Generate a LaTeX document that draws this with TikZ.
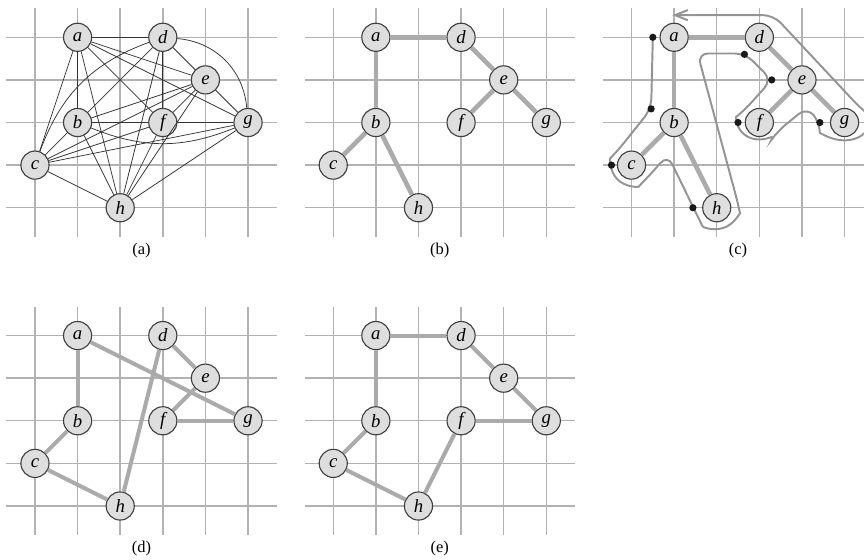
\documentclass[tikz,border=0pt]{standalone}
\usepackage{fontspec}
\setmainfont{Liberation Serif}
\newfontfamily\figfont{Liberation Serif}
\usetikzlibrary{arrows.meta}

\tikzset{
  vertex/.style={circle, draw=black!75, fill=black!13, line width=0.75pt,
    minimum size=6.6mm, inner sep=0pt, font=\figfont\fontsize{12.5}{12.5}\selectfont\itshape},
  gridline/.style={black!30, line width=0.95pt},
  kedge/.style={black!80, line width=0.5pt},
  thickedge/.style={black!33, line width=3.1pt},
  touredge/.style={black!33, line width=2.7pt},
  walk/.style={black!42, line width=1.3pt},
  visit/.style={circle, fill=black!90, inner sep=0pt, minimum size=1.7mm},
  caption/.style={font=\figfont\fontsize{11}{12}\selectfont}
}

% grid of one panel
\newcommand{\panelgrid}{%
  \foreach \x in {0,...,5}
    \draw[gridline] (\x,0.68) -- (\x,-4.68);
  \foreach \y in {0,...,4}
    \draw[gridline] (-0.67,-\y) -- (5.67,-\y);
}
% the eight vertices, #1 = panel suffix
\newcommand{\panelvertices}[1]{%
  \foreach \v/\x/\y in {a/1/0,d/3/0,e/4/-1,b/1/-2,f/3/-2,g/5/-2,c/0/-3,h/2/-4}
    \node[vertex] (\v#1) at (\x,\y) {\v};
}

\begin{document}
\begin{tikzpicture}
\useasboundingbox (-0.821,0.875) rectangle (19.456,-12.244);
\clip (-0.821,0.875) rectangle (19.456,-12.244);

% (a) complete graph
\begin{scope}
  \panelgrid
  \panelvertices{1}
  \foreach \u/\v in {a/b,a/c,a/d,a/e,a/f,a/g,a/h,b/c,b/d,b/e,b/f,b/h,%
                     c/e,c/f,c/g,c/h,d/e,d/f,d/h,e/f,e/g,e/h,f/g,f/h,g/h}
    \draw[kedge] (\u1) -- (\v1);
  \draw[kedge] (d1) to[bend left=40] (g1);
  \draw[kedge] (c1) to[bend left=25] (d1);
  \draw[kedge] (b1) to[bend right=22] (g1);
  \node[caption] (capa) at (2.5,-5) {(a)};
\end{scope}

% (b) minimum spanning tree
\begin{scope}[shift={(7,0)}]
  \panelgrid
  \panelvertices{2}
  \foreach \u/\v in {a/d,a/b,b/c,b/h,d/e,e/f,e/g}
    \draw[thickedge] (\u2) -- (\v2);
  \node[caption] (capb) at (2.5,-5) {(b)};
\end{scope}

% (c) walk of the tree
\begin{scope}[shift={(14,0)}]
  \panelgrid
  \panelvertices{3}
  \foreach \u/\v in {a/d,a/b,b/c,b/h,d/e,e/f,e/g}
    \draw[thickedge] (\u3) -- (\v3);
  \draw[walk, rounded corners=7pt, -{Straight Barb[length=3mm,width=2.4mm]}]
    (0.5,0) -- (0.46,-1.68) -- (-0.33,-2.67)
    arc[start angle=135, end angle=315, radius=0.47]
    -- (0.85,-2.76) -- (1.56,-4.22)
    arc[start angle=206.57, end angle=372, radius=0.5]
    -- (1.55,-0.38) -- (2.67,-0.38) -- (3.29,-1.0) -- (2.646,-1.717)
    arc[start angle=135, end angle=330, x radius=0.5, y radius=0.4]
    -- (4.12,-1.64) -- (4.42,-2)
    arc[start angle=180, end angle=405, x radius=0.58, y radius=0.42]
    -- (3.33,0.52) -- (0.96,0.52);
  \foreach \n/\x/\y in {a/0.5/0,b/0.46/-1.68,c/-0.47/-3,h/1.44/-4,d/2.65/-0.4,e/3.29/-1,f/2.5/-2,g/4.42/-2}
    \node[visit] (dot\n) at (\x,\y) {};
  \node[caption] (capc) at (2.5,-5) {(c)};
\end{scope}

% (d) preorder tour
\begin{scope}[shift={(0,-7)}]
  \panelgrid
  \panelvertices{4}
  \foreach \u/\v in {a/b,b/c,c/h,h/d,d/e,e/f,f/g,g/a}
    \draw[touredge] (\u4) -- (\v4);
  \node[caption] (capd) at (2.5,-5) {(d)};
\end{scope}

% (e) optimal tour
\begin{scope}[shift={(7,-7)}]
  \panelgrid
  \panelvertices{5}
  \foreach \u/\v in {a/d,d/e,e/g,g/f,f/h,h/c,c/b,b/a}
    \draw[touredge] (\u5) -- (\v5);
  \node[caption] (cape) at (2.5,-5) {(e)};
\end{scope}

\end{tikzpicture}
\end{document}
